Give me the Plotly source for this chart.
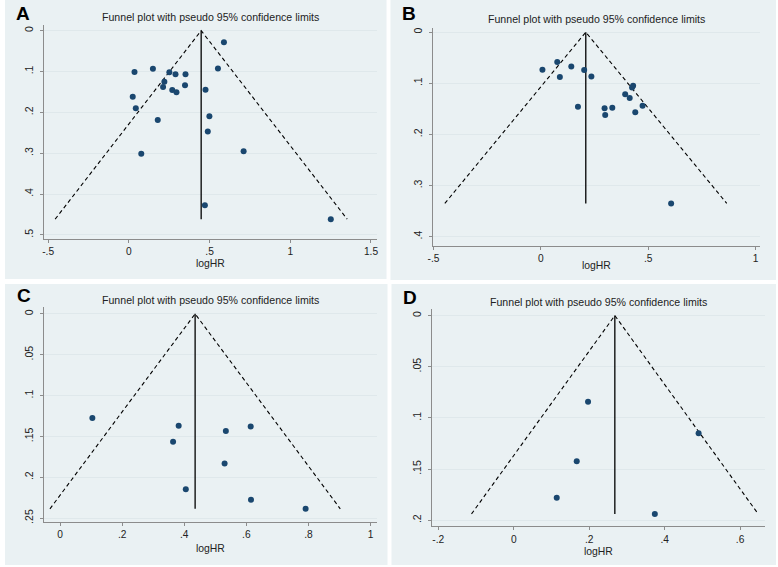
import plotly.graph_objects as go

W, H = 778, 567
navy = "#1a476f"
panel_bg = "#EAF1F3"
grid = "#DFE8EB"
axis_col = "#8c8c8c"
font_fam = "Arial, Liberation Sans, sans-serif"

# data
a_loghr = [0.589, 0.035, 0.149, 0.251, 0.289, 0.351, 0.552, 0.220, 0.212, 0.348, 0.269,
           0.295, 0.475, 0.024, 0.043, 0.499, 0.179, 0.489, 0.077, 0.711, 0.471, 1.251]
a_se = [0.0285, 0.101, 0.0935, 0.102, 0.1065, 0.107, 0.0927, 0.125, 0.138, 0.134, 0.1455,
        0.151, 0.1447, 0.162, 0.190, 0.2098, 0.2187, 0.247, 0.3016, 0.295, 0.4276, 0.4615]
a_pooled = 0.448

b_loghr = [0.0076, 0.0765, 0.0887, 0.142, 0.202, 0.2355, 0.173, 0.297, 0.333, 0.300,
           0.430, 0.425, 0.393, 0.414, 0.474, 0.440, 0.607]
b_se = [0.0735, 0.0585, 0.0878, 0.067, 0.0741, 0.0865, 0.146, 0.149, 0.148, 0.162,
        0.1047, 0.108, 0.1216, 0.1288, 0.1437, 0.1567, 0.335]
b_pooled = 0.2095

c_loghr = [0.104, 0.382, 0.364, 0.405, 0.534, 0.614, 0.530, 0.615, 0.791]
c_se = [0.1276, 0.137, 0.1565, 0.2146, 0.1435, 0.138, 0.183, 0.2276, 0.2386]
c_pooled = 0.435

d_loghr = [0.197, 0.490, 0.167, 0.114, 0.374]
d_se = [0.0841, 0.1149, 0.1422, 0.178, 0.1938]
d_pooled = 0.268

a_xticks = [-0.5, 0, 0.5, 1, 1.5]
a_xlabels = ["-.5", "0", ".5", "1", "1.5"]
a_yticks = [0, 0.1, 0.2, 0.3, 0.4, 0.5]
a_ylabels = ["0", ".1", ".2", ".3", ".4", ".5"]

b_xticks = [-0.5, 0, 0.5, 1]
b_xlabels = ["-.5", "0", ".5", "1"]
b_yticks = [0, 0.1, 0.2, 0.3, 0.4]
b_ylabels = ["0", ".1", ".2", ".3", ".4"]

c_xticks = [0, 0.2, 0.4, 0.6, 0.8, 1]
c_xlabels = ["0", ".2", ".4", ".6", ".8", "1"]
c_yticks = [0, 0.05, 0.1, 0.15, 0.2, 0.25]
c_ylabels = ["0", ".05", ".1", ".15", ".2", ".25"]

d_xticks = [-0.2, 0, 0.2, 0.4, 0.6]
d_xlabels = ["-.2", "0", ".2", ".4", ".6"]
d_yticks = [0, 0.05, 0.1, 0.15, 0.2]
d_ylabels = ["0", ".05", ".1", ".15", ".2"]

panels = [
    dict(letter="A", x=a_loghr, se=a_se, pooled=a_pooled, xt=a_xticks, xl=a_xlabels,
         yt=a_yticks, yl=a_ylabels, box=(39.3, 25, 375, 240), xr=[-0.526, 1.535],
         yr=[0.5105, -0.014], bg=(0, 0, 385, 280), lpos=(18, 14), tpos=17, xtpos=264.5),
    dict(letter="B", x=b_loghr, se=b_se, pooled=b_pooled, xt=b_xticks, xl=b_xlabels,
         yt=b_yticks, yl=b_ylabels, box=(431.7, 28, 762.3, 246.7), xr=[-0.503, 1.023],
         yr=[0.418, -0.0084], bg=(389, 0, 778, 281), lpos=(408, 14), tpos=19, xtpos=266.5),
    dict(letter="C", x=c_loghr, se=c_se, pooled=c_pooled, xt=c_xticks, xl=c_xlabels,
         yt=c_yticks, yl=c_ylabels, box=(39.3, 308, 375.7, 524), xr=[-0.052, 1.022],
         yr=[0.2549, -0.0085], bg=(0, 285, 386, 567), lpos=(19, 297), tpos=301, xtpos=550.5),
    dict(letter="D", x=d_loghr, se=d_se, pooled=d_pooled, xt=d_xticks, xl=d_xlabels,
         yt=d_yticks, yl=d_ylabels, box=(430.7, 310, 767.3, 528.3), xr=[-0.217, 0.667],
         yr=[0.206, -0.0065], bg=(390, 285, 778, 567), lpos=(409, 299), tpos=303, xtpos=553),
]

fig = go.Figure()
shapes = []
annotations = []

for i, p in enumerate(panels):
    n = "" if i == 0 else str(i + 1)
    xa, ya = "x" + n, "y" + n
    x0, y0, x1, y1 = p["box"]

    semax = max(p["se"])
    lo = p["pooled"] - 1.96 * semax
    hi = p["pooled"] + 1.96 * semax

    # pseudo 95% limits
    fig.add_trace(go.Scatter(x=[lo, p["pooled"], hi], y=[semax, 0, semax], mode="lines",
                             line=dict(color="black", width=1.1, dash="4px,3px"),
                             xaxis=xa, yaxis=ya, showlegend=False, hoverinfo="skip"))
    # pooled estimate
    fig.add_trace(go.Scatter(x=[p["pooled"], p["pooled"]], y=[0, semax], mode="lines",
                             line=dict(color="black", width=1.3),
                             xaxis=xa, yaxis=ya, showlegend=False, hoverinfo="skip"))
    # studies
    fig.add_trace(go.Scatter(x=p["x"], y=p["se"], mode="markers",
                             marker=dict(color=navy, size=6),
                             xaxis=xa, yaxis=ya, showlegend=False))

    fig.layout["xaxis" + n] = dict(
        domain=[x0 / W, x1 / W], range=p["xr"], anchor=ya,
        tickmode="array", tickvals=p["xt"], ticktext=p["xl"],
        showgrid=False, zeroline=False, showline=True, linecolor=axis_col, linewidth=1,
        ticks="outside", ticklen=3, tickcolor=axis_col,
        tickfont=dict(size=10.2, color="#222222", family=font_fam))
    fig.layout["yaxis" + n] = dict(
        domain=[1 - y1 / H, 1 - y0 / H], range=p["yr"], anchor=xa,
        tickmode="array", tickvals=p["yt"], ticktext=p["yl"], tickangle=-90,
        showgrid=True, gridcolor=grid, gridwidth=1, zeroline=False,
        showline=True, linecolor=axis_col, linewidth=1,
        ticks="outside", ticklen=3, tickcolor=axis_col, ticklabelstandoff=3,
        tickfont=dict(size=10.5, color="#222222", family=font_fam))

    bx0, by0, bx1, by1 = p["bg"]
    shapes.append(dict(type="rect", xref="paper", yref="paper", layer="below",
                       x0=bx0 / W, x1=bx1 / W, y0=1 - by1 / H, y1=1 - by0 / H,
                       fillcolor=panel_bg, line=dict(width=0)))

    cx = (x0 + x1) / 2
    annotations.append(dict(text="Funnel plot with pseudo 95% confidence limits",
                            xref="paper", yref="paper", x=cx / W, y=1 - p["tpos"] / H,
                            showarrow=False, xanchor="center", yanchor="middle",
                            font=dict(size=10.6, color="#222222", family=font_fam)))
    annotations.append(dict(text="logHR", xref="paper", yref="paper", x=cx / W,
                            y=1 - p["xtpos"] / H, showarrow=False,
                            xanchor="center", yanchor="middle",
                            font=dict(size=10.4, color="#222222", family=font_fam)))
    lx, ly = p["lpos"]
    annotations.append(dict(text="<b>" + p["letter"] + "</b>", xref="paper", yref="paper",
                            x=lx / W, y=1 - ly / H, showarrow=False,
                            xanchor="center", yanchor="middle",
                            font=dict(size=19, color="black", family=font_fam)))

fig.update_layout(width=W, height=H, margin=dict(l=0, r=0, t=0, b=0, pad=0),
                  paper_bgcolor="white", plot_bgcolor="white",
                  shapes=shapes, annotations=annotations)

fig.write_html("out.html", config={"displayModeBar": False},
               post_script="document.body.style.margin='0';document.body.style.overflow='hidden';")
